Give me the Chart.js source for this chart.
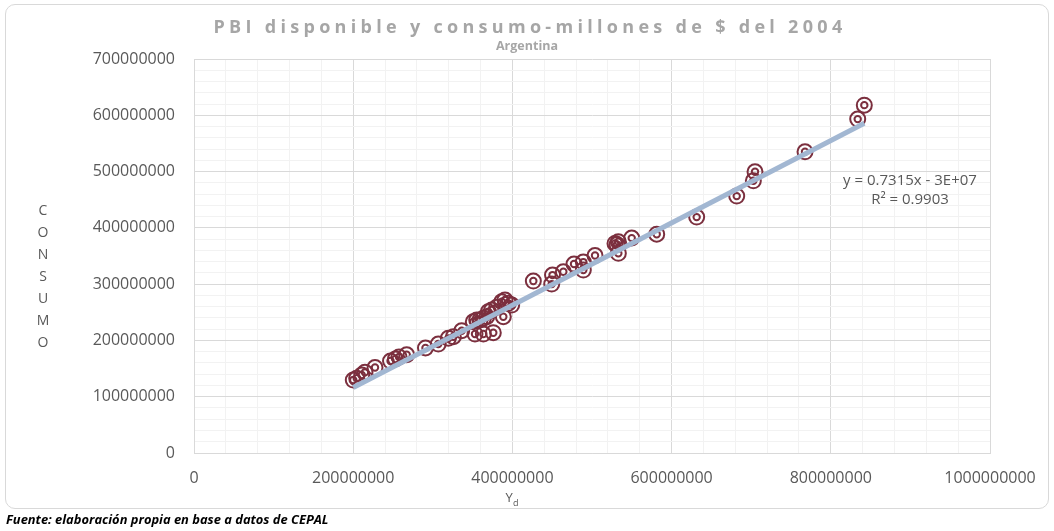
<!DOCTYPE html>
<html>
<head>
<meta charset="utf-8">
<title>PBI disponible y consumo</title>
<script src="https://cdn.jsdelivr.net/npm/chart.js@4.4.1/dist/chart.umd.min.js"></script>
<style>
  body { margin: 0; background: #fff; }
  #wrap { position: relative; width: 1054px; height: 531px; font-family: "Open Sans", sans-serif; }
  #frame { position: absolute; left: 5px; top: 4px; width: 1042px; height: 503px; border: 1px solid #d9d9d9; border-radius: 10px; }
  #graph { position: absolute; left: 0; top: 0; }
  .title { position: absolute; left: 0; width: 1054px; text-align: center; color: #a6a6a6; font-weight: bold; white-space: nowrap; }
  #mainTitle { top: 14px; left: 3px; font-size: 18px; letter-spacing: 4.3px; }
  #subTitle { top: 37px; font-size: 12.5px; }
  #yTitle { position: absolute; left: 35px; top: 199px; width: 16px; text-align: center; font-size: 14px; line-height: 22px; color: #595959; }
  #xTitle { position: absolute; left: 497px; top: 488px; width: 30px; text-align: center; font-size: 13px; color: #595959; }
  #eq { position: absolute; left: 830px; top: 170px; width: 160px; text-align: center; font-size: 15px; line-height: 19px; color: #595959; }
  #source { position: absolute; left: 6px; top: 510px; font-size: 12.9px; font-weight: bold; font-style: italic; color: #000; white-space: nowrap; }
</style>
</head>
<body>
<div id="wrap">
  <div id="frame"></div>
  <canvas id="graph" width="1054" height="531"></canvas>
  <div class="title" id="mainTitle">PBI disponible y consumo-millones de $ del 2004</div>
  <div class="title" id="subTitle">Argentina</div>
  <div id="yTitle">C<br>O<br>N<br>S<br>U<br>M<br>O</div>
  <div id="xTitle">Y<sub style="font-size:9px">d</sub></div>
  <div id="eq">y = 0.7315x - 3E+07<br>R² = 0.9903</div>
  <div id="source">Fuente: elaboración propia en base a datos de CEPAL</div>
</div>
<script>
// ingreso disponible (Yd) y consumo, millones de $ del 2004
const yd = [
    200100000, 204400000, 210700000, 214800000, 227400000, 246900000, 253100000, 257500000,
    267200000, 290800000, 306900000, 319500000, 325800000, 336300000, 350900000, 355200000,
    359300000, 363500000, 367700000, 353000000, 363500000, 376000000, 369700000, 374000000,
    380300000, 386600000, 390700000, 394900000, 399100000, 388600000, 426300000, 449400000,
    450400000, 464000000, 477400000, 489100000, 489100000, 503800000, 528900000, 533100000,
    531400000, 533100000, 549900000, 581300000, 631500000, 681800000, 702700000, 704800000,
    767600000, 833800000, 842100000
];
const consumo = [
    129600000, 132700000, 138500000, 143300000, 151800000, 163400000, 166900000, 170500000,
    174600000, 186500000, 193600000, 203700000, 206500000, 217200000, 233200000, 236200000,
    236200000, 239200000, 242100000, 211300000, 211300000, 213700000, 251000000, 254000000,
    258800000, 268700000, 271700000, 265900000, 262800000, 242100000, 305500000, 300100000,
    316100000, 322000000, 335700000, 339200000, 325000000, 350800000, 372400000, 375300000,
    370300000, 354700000, 381800000, 388600000, 419100000, 456400000, 483600000, 499600000,
    535100000, 593200000, 618000000
];

// tendencia lineal: y = 0.7315x - 3E+07
const slope = 0.7315;
const intercept = -3e7;

const xTicks = [0, 200000000, 400000000, 600000000, 800000000, 1000000000];
const yTicks = [0, 100000000, 200000000, 300000000, 400000000, 500000000, 600000000, 700000000];

const points = yd.map((x, i) => ({ x: x, y: consumo[i] }));
const xMin = Math.min(...yd);
const xMax = Math.max(...yd);
const trend = [
    { x: xMin, y: slope * xMin + intercept },
    { x: xMax, y: slope * xMax + intercept }
];

const markColor = '#7b2f3e';
const tickFont = { family: 'Open Sans', size: 16 };

function gridColor(ticks, minor) {
    return (ctx) => ticks.includes(ctx.tick.value) ? '#d9d9d9' : minor;
}

new Chart(document.getElementById('graph'), {
    type: 'scatter',
    data: {
        datasets: [
            {
                type: 'line',
                data: trend,
                borderColor: '#a2b7d2',
                borderWidth: 5,
                pointRadius: 0,
                fill: false
            },
            {
                data: points,
                pointStyle: 'circle',
                pointRadius: 7.5,
                pointBorderWidth: 2,
                pointBackgroundColor: 'rgba(0,0,0,0)',
                pointBorderColor: markColor
            },
            {
                data: points,
                pointStyle: 'circle',
                pointRadius: 3.2,
                pointBorderWidth: 2,
                pointBackgroundColor: 'rgba(0,0,0,0)',
                pointBorderColor: markColor
            }
        ]
    },
    options: {
        responsive: false,
        animation: false,
        layout: { padding: { left: 0, top: 59, right: 64, bottom: 0 } },
        plugins: {
            legend: { display: false },
            tooltip: { enabled: false }
        },
        scales: {
            x: {
                type: 'linear',
                min: 0,
                max: 1000000000,
                afterFit: (scale) => { scale.height = 78; },
                ticks: {
                    stepSize: 40000000,
                    autoSkip: false,
                    maxRotation: 0,
                    padding: 16,
                    color: '#595959',
                    font: tickFont,
                    callback: (v) => xTicks.includes(v) ? String(v) : ''
                },
                grid: { color: gridColor(xTicks, '#f2f2f2'), lineWidth: 1, drawTicks: false },
                border: { color: '#d9d9d9' }
            },
            y: {
                min: 0,
                max: 700000000,
                afterFit: (scale) => { scale.width = 194; },
                ticks: {
                    stepSize: 20000000,
                    autoSkip: false,
                    padding: 19,
                    color: '#595959',
                    font: tickFont,
                    callback: (v) => yTicks.includes(v) ? String(v) : ''
                },
                grid: { color: gridColor(yTicks, '#f2f2f2'), lineWidth: 1, drawTicks: false },
                border: { color: '#d9d9d9' }
            }
        }
    }
});
</script>
</body>
</html>
